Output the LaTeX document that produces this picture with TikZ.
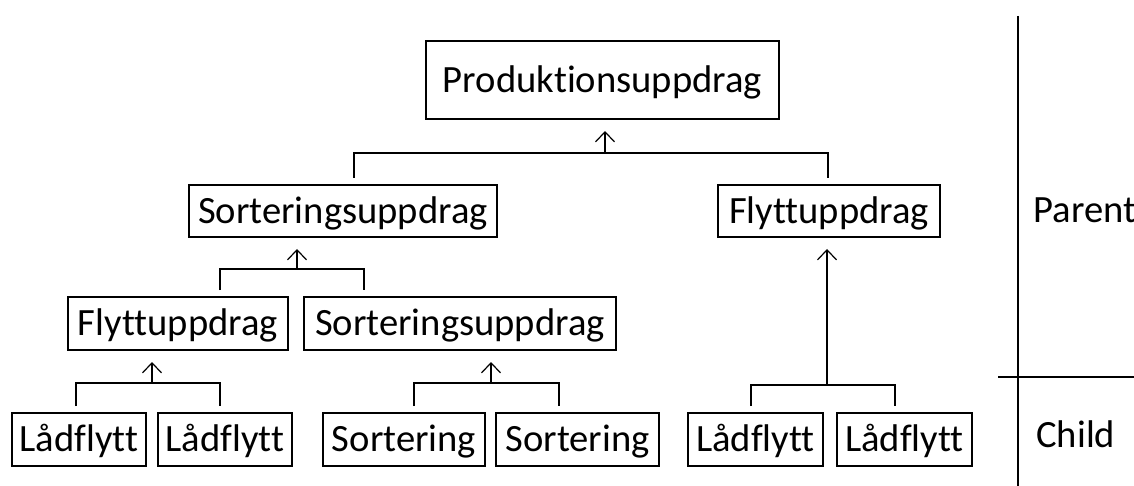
\documentclass[tikz,border=0pt]{standalone}
\usepackage{fontspec}
\setmainfont{Carlito}[Ligatures={NoCommon}]
\usepackage{tikz}
\usetikzlibrary{calc, arrows.meta, positioning}

\begin{document}
\begin{tikzpicture}[
    x=0.5pt, y=-0.5pt,
    task/.style={rectangle, draw=black, line width=1pt, inner sep=0pt, minimum height=26.5pt, text height=12.4pt, text depth=0pt, align=center, font=\fontsize{19.3}{23}\selectfont},
    link/.style={draw=black, line width=1pt, shorten <=3pt, shorten >=3pt},
    uparrow/.style={draw=black, line width=1pt, shorten >=5.5pt, -{Straight Barb[length=5pt, width=9.5pt, line width=0.6pt]}},
    side/.style={anchor=base west, inner sep=0pt, font=\fontsize{19.3}{23}\selectfont}
]
    \useasboundingbox (0,0) rectangle (1134,486);

    \node [task, minimum width=176.5pt, minimum height=39pt] (prod) at (602.5, 80) {Produktionsuppdrag};
    \node [task, minimum width=154pt, minimum height=26pt] (sortT) at (343, 211) {Sorteringsuppdrag};
    \node [task, minimum width=111pt, minimum height=26pt] (flyttR) at (829, 211) {Flyttuppdrag};
    \node [task, minimum width=110pt] (flyttL) at (178, 323.5) {Flyttuppdrag};
    \node [task, minimum width=156pt] (sortM) at (460, 323.5) {Sorteringsuppdrag};
    \node [task, minimum width=67pt] (lad1) at (79, 439.5) {Lådflytt};
    \node [task, minimum width=67pt] (lad2) at (225, 439.5) {Lådflytt};
    \node [task, minimum width=81pt] (sor1) at (404, 439.5) {Sortering};
    \node [task, minimum width=81.5pt] (sor2) at (577.5, 439.5) {Sortering};
    \node [task, minimum width=67.5pt] (lad3) at (755.5, 439.5) {Lådflytt};
    \node [task, minimum width=67.5pt] (lad4) at (904.5, 439.5) {Lådflytt};

    \node [side] (parent) at (1033, 222) {Parent};
    \node [side] (child) at (1036, 447) {Child};

    % joints on the bars
    \coordinate (jProd) at (605, 153);
    \coordinate (jSortT) at (297, 269);
    \coordinate (jFlyttL) at (152, 383);
    \coordinate (jSortM) at (491, 383);
    \coordinate (jFlyttR) at (827, 385);

    \draw [link] ([xshift=5.5pt]sortT.north) |- (jProd) -| ([xshift=-0.5pt]flyttR.north);
    \draw [uparrow] (jProd) -- (jProd |- prod.south);

    \draw [link] ([xshift=21pt]flyttL.north) |- (jSortT) -| ([xshift=-48pt]sortM.north);
    \draw [uparrow] (jSortT) -- (jSortT |- sortT.south);

    \draw [link] ([xshift=-1.5pt]lad1.north) |- (jFlyttL) -| ([xshift=-2.5pt]lad2.north);
    \draw [uparrow] (jFlyttL) -- (jFlyttL |- flyttL.south);

    \draw [link] ([xshift=5pt]sor1.north) |- (jSortM) -| ([xshift=-9.25pt]sor2.north);
    \draw [uparrow] (jSortM) -- (jSortM |- sortM.south);

    \draw [link] ([xshift=-2.25pt]lad3.north) |- (jFlyttR) -| ([xshift=-4.75pt]lad4.north);
    \draw [uparrow] (jFlyttR) -- (jFlyttR |- flyttR.south);

    % level separator
    \draw [line width=1pt] (1018, 16) -- (1018, 486);
    \draw [line width=1pt] (998, 377) -- (1134, 377);
\end{tikzpicture}
\end{document}
